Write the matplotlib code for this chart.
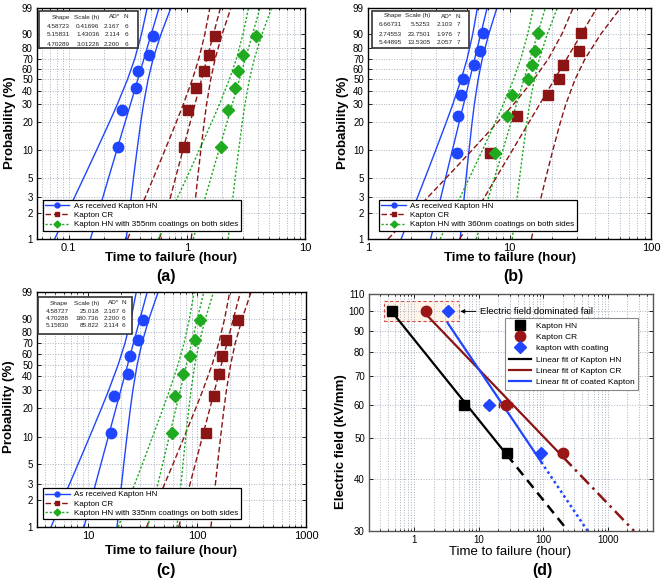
import numpy as np
import matplotlib.pyplot as plt
from matplotlib.lines import Line2D
from matplotlib.patches import Rectangle
from matplotlib.ticker import LogLocator, NullFormatter, NullLocator

plt.rcParams['font.family'] = ['Liberation Sans', 'DejaVu Sans']

# -----------------------------
# Data
# -----------------------------
RANK6 = [10.9, 26.6, 42.2, 57.8, 73.4, 89.1]          # median ranks (%), N = 6
RANK7 = [9.46, 22.97, 36.49, 50.0, 63.51, 77.03, 90.54]  # median ranks (%), N = 7
PROB_TICKS = [1, 2, 3, 5, 10, 20, 30, 40, 50, 60, 70, 80, 90, 99]

# confidence band half-width profile (x shape, ln-hours)
BAND_P = [1, 2, 3, 5, 10, 20, 30, 50, 70, 90, 99]
BAND_K = [3.2, 2.78, 2.53, 2.22, 1.81, 1.40, 1.17, 0.92, 0.82, 0.87, 1.06]

# (a) 100 kV/mm
A_HN = [0.261, 0.281, 0.370, 0.390, 0.476, 0.518]
A_CR = [0.944, 1.03, 1.197, 1.39, 1.53, 1.74]
A_COAT = [1.95, 2.25, 2.56, 2.73, 2.99, 3.83]
A_SHAPE = [4.58723, 5.15831, 4.70289]
A_SCALE = [0.41696, 1.43036, 3.01226]
A_TABLE = [['4.58723', '0.41696', '2.167', '6'],
           ['5.15831', '1.43036', '2.114', '6'],
           ['4.70289', '3.01226', '2.200', '6']]

# (b) 60 kV/mm
B_HN = [4.23, 4.30, 4.53, 4.71, 5.63, 6.18, 6.52]
B_CR = [7.26, 11.27, 18.8, 22.5, 24.0, 31.0, 31.9]
B_COAT = [7.96, 9.63, 10.5, 13.6, 14.5, 15.2, 15.8]
B_SHAPE = [6.66731, 2.74553, 5.44895]
B_SCALE = [5.5253, 23.7501, 13.5305]
B_TABLE = [['6.66731', '5.5253', '2.103', '7'],
           ['2.74553', '23.7501', '1.976', '7'],
           ['5.44895', '13.5305', '2.057', '7']]

# (c) 46 kV/mm
C_HN = [16.1, 17.2, 23.2, 24.2, 28.9, 31.8]
C_CR = [121.6, 141.9, 157.7, 170.5, 184.2, 237.0]
C_COAT = [59.0, 63.3, 74.0, 86.9, 95.2, 107.2]
C_SHAPE = [4.58727, 4.70288, 5.15830]
C_SCALE = [25.018, 180.736, 85.822]
C_TABLE = [['4.58727', '25.018', '2.167', '6'],
           ['4.70288', '180.736', '2.200', '6'],
           ['5.15830', '85.822', '2.114', '6']]

# (d) lifetime vs field
E_FIELD = [100, 60, 46]
D_HN = [0.46, 5.99, 27.2]
D_CR = [1.52, 26.6, 202.0]
D_COAT = [3.3, 14.3, 93.0]
D_HN_ERR = [0.04, 0.3, 3.0]
D_CR_ERR = [0.1, 6.0, 30.0]
D_COAT_ERR = [0.25, 1.8, 10.0]

BLUE = '#1f45ff'
RED = '#8b1414'
GREEN = '#1faa1f'

W, H = 662, 578


def box(l, t, r, b):
    return [l / W, 1 - b / H, (r - l) / W, (b - t) / H]


def weib(p):
    p = np.clip(np.asarray(p, dtype=float), 1e-6, 100 - 1e-6)
    return np.log(-np.log(1 - p / 100.0))


def weib_inv(w):
    return 100.0 * (1 - np.exp(-np.exp(np.asarray(w, dtype=float))))


fig = plt.figure(figsize=(6.62, 5.78), dpi=100)


def prob_panel(ax, times, ranks, shapes, scales, xlim, xticks, xlabels,
               table, tab_box, tab_cols, tab_rows, leg_label, leg_anchor):
    ax.set_xscale('log')
    ax.set_yscale('function', functions=(weib, weib_inv))
    p = np.array(BAND_P, dtype=float)
    k = np.array(BAND_K)
    styles = [(BLUE, '-', 'o', 7.5), (RED, (0, (4, 2)), 's', 6.5),
              (GREEN, (0, (1.6, 1.4)), 'D', 6.3)]
    for t, shp, scl, (c, ls, mk, ms) in zip(times, shapes, scales, styles):
        center = scl * (-np.log(1 - p / 100)) ** (1 / shp)
        hw = k / shp
        for f in (-1, 0, 1):
            ax.plot(center * np.exp(f * hw), p, color=c, ls=ls, lw=1.0, zorder=2)
        ax.plot(t, ranks, ls='none', marker=mk, color=c, ms=ms, zorder=3)

    ax.set_xlim(xlim)
    ax.set_ylim(1, 99)
    ax.set_yticks(PROB_TICKS, labels=[str(v) for v in PROB_TICKS])
    ax.yaxis.set_minor_locator(NullLocator())
    ax.set_xticks(xticks, labels=xlabels)
    ax.xaxis.set_minor_locator(LogLocator(base=10, subs=np.arange(2, 10)))
    ax.xaxis.set_minor_formatter(NullFormatter())
    ax.grid(True, which='major', ls=':', color='#a9b2c2', lw=0.7)
    ax.xaxis.grid(True, which='minor', ls=':', color='#a9b2c2', lw=0.7)
    ax.tick_params(which='both', direction='in', top=True, right=True, width=0.6)
    ax.tick_params(which='major', length=3)
    ax.tick_params(which='minor', length=1.5)
    ax.tick_params(axis='x', labelsize=8, pad=3)
    ax.tick_params(axis='y', labelsize=7, pad=3)
    for s in ax.spines.values():
        s.set_linewidth(1.0)

    handles = [Line2D([], [], color=BLUE, ls='-', marker='o', ms=3.5, lw=1),
               Line2D([], [], color=RED, ls=(0, (4, 2)), marker='s', ms=3.5, lw=1),
               Line2D([], [], color=GREEN, ls=(0, (1.6, 1.4)), marker='D', ms=3.5, lw=1)]
    labels = ['As received Kapton HN', 'Kapton CR', leg_label]
    leg = ax.legend(handles, labels, loc='lower left', bbox_to_anchor=leg_anchor,
                    borderaxespad=0, fontsize=5.8, handlelength=3.0,
                    labelspacing=0.2, borderpad=0.3, handletextpad=0.6,
                    fancybox=False, framealpha=1, edgecolor='black')
    leg.get_frame().set_linewidth(0.9)

    # parameter table
    l, t, r, b = tab_box
    fig.patches.append(Rectangle((l / W, 1 - b / H), (r - l) / W, (b - t) / H,
                                 transform=fig.transFigure, facecolor='white',
                                 edgecolor='#333333', lw=1.2, zorder=5))
    header = ['Shape', 'Scale (h)', 'AD*', 'N']
    for row_i, row in enumerate([header] + table):
        y = 1 - tab_rows[row_i] / H
        for col_i, txt in enumerate(row):
            ha = 'center' if col_i == 3 else 'right'
            fig.text(tab_cols[col_i] / W, y, txt, ha=ha, va='center',
                     fontsize=4.6, color='#222222', zorder=6)


ax_a = fig.add_axes(box(37, 8, 305, 239))
prob_panel(ax_a, [A_HN, A_CR, A_COAT], RANK6, A_SHAPE, A_SCALE,
           (0.054, 10), [0.1, 1, 10], ['0.1', '1', '10'], A_TABLE,
           (39, 11, 138, 48), [70, 99.5, 120, 126], [17, 26, 35, 44],
           'Kapton HN with 355nm coatings on both sides', (0.022, 0.035))

ax_b = fig.add_axes(box(368, 8, 651, 239))
prob_panel(ax_b, [B_HN, B_CR, B_COAT], RANK7, B_SHAPE, B_SCALE,
           (1, 100), [1, 10, 100], ['1', '10', '100'], B_TABLE,
           (372, 11, 469, 48), [402, 430.5, 452.5, 458], [16, 25, 34, 43],
           'Kapton HN with 360nm coatings on both sides', (0.039, 0.035))

ax_c = fig.add_axes(box(37, 292, 306, 527))
prob_panel(ax_c, [C_HN, C_CR, C_COAT], RANK6, C_SHAPE, C_SCALE,
           (3.4, 1000), [10, 100, 1000], ['10', '100', '1000'], C_TABLE,
           (38, 297, 132, 334), [68.5, 99, 119.5, 123.5], [303, 311.5, 318.5, 325.5],
           'Kapton HN with 335nm coatings on both sides', (0.022, 0.033))

# -----------------------------
# (d) electric field vs lifetime
# -----------------------------
ax_d = fig.add_axes(box(369, 294, 653, 531))
ax_d.set_xscale('log')
ax_d.set_yscale('log')

ax_d.add_patch(Rectangle((0.342, 95), 4.89 - 0.342, 106 - 95, facecolor='#fff4ea',
                         edgecolor='#d05050', ls=(0, (3, 2)), lw=0.8, zorder=1))

fits = [(D_HN, 'black', (0, (4, 2.5))), (D_CR, RED, (0, (5, 2, 1, 2))),
        (D_COAT, BLUE, (0, (1, 1.3)))]
for t, c, ext_ls in fits:
    lt = np.log10(t)
    le = np.log10(E_FIELD)
    b, a = np.polyfit(lt, le, 1)
    t0, t1 = t[0], t[-1]
    t30 = 10 ** ((np.log10(30) - a) / b)
    ax_d.plot([t0, t1], [10 ** (a + b * np.log10(t0)), 10 ** (a + b * np.log10(t1))],
              color=c, lw=1.6, zorder=2)
    ax_d.plot([t1, t30], [10 ** (a + b * np.log10(t1)), 30], color=c, lw=1.8,
              ls=ext_ls, zorder=2)

ax_d.errorbar(D_HN, E_FIELD, xerr=D_HN_ERR, fmt='s', color='black', ms=7,
              capsize=2, elinewidth=1, zorder=4)
ax_d.errorbar(D_CR, E_FIELD, xerr=D_CR_ERR, fmt='o', color='#9a1616', ms=7.5,
              capsize=2, elinewidth=1, zorder=4)
ax_d.errorbar(D_COAT, E_FIELD, xerr=D_COAT_ERR, fmt='D', color=BLUE, ms=6.5,
              capsize=2, elinewidth=1, zorder=4)

ax_d.annotate('Electric field dominated fail', xy=(5.2, 100), xytext=(10.5, 100),
              ha='left', va='center', fontsize=6.8,
              arrowprops=dict(arrowstyle='-|>', color='black', lw=0.7,
                              mutation_scale=6, shrinkA=1, shrinkB=0))

ax_d.set_xlim(0.2, 5000)
ax_d.set_ylim(30, 110)
E_TICKS = [30, 40, 50, 60, 70, 80, 90, 100, 110]
ax_d.set_yticks(E_TICKS, labels=[str(v) for v in E_TICKS])
ax_d.yaxis.set_minor_locator(NullLocator())
ax_d.set_xticks([1, 10, 100, 1000], labels=['1', '10', '100', '1000'])
ax_d.xaxis.set_minor_locator(LogLocator(base=10, subs=np.arange(2, 10)))
ax_d.xaxis.set_minor_formatter(NullFormatter())
ax_d.grid(True, which='major', ls=':', color='#a9b2c2', lw=0.7)
ax_d.xaxis.grid(True, which='minor', ls=':', color='#a9b2c2', lw=0.7)
ax_d.tick_params(which='both', direction='in', top=True, right=True, width=0.6,
                 labelsize=7, pad=3)
ax_d.tick_params(which='major', length=3)
ax_d.tick_params(which='minor', length=1.5)
for s in ax_d.spines.values():
    s.set_color('#555555')
    s.set_linewidth(1.0)

d_handles = [Line2D([], [], ls='none', marker='s', color='black', ms=7),
             Line2D([], [], ls='none', marker='o', color='#9a1616', ms=7.5),
             Line2D([], [], ls='none', marker='D', color=BLUE, ms=6.5),
             Line2D([], [], color='black', lw=1.6),
             Line2D([], [], color=RED, lw=1.6),
             Line2D([], [], color=BLUE, lw=1.6)]
d_labels = ['Kapton HN', 'Kapton CR', 'kapton with coating',
            'Linear fit of Kapton HN', 'Linear fit of Kapton CR',
            'Linear fit of coated Kapton']
leg = ax_d.legend(d_handles, d_labels, loc='upper right', bbox_to_anchor=(0.948, 0.899),
                  borderaxespad=0, fontsize=6, handlelength=2.6, labelspacing=0.42,
                  borderpad=0.45, handletextpad=0.6, fancybox=False, framealpha=1,
                  edgecolor='#888888')
leg.get_frame().set_linewidth(0.8)

# -----------------------------
# Labels
# -----------------------------
for x, y in [(171, 258), (510, 258), (171, 551)]:
    fig.text(x / W, 1 - y / H, 'Time to failure (hour)', ha='center', va='center',
             fontsize=9.5, fontweight='bold')
fig.text(510 / W, 1 - 551.5 / H, 'Time to failure (hour)', ha='center', va='center',
         fontsize=9.5)
for x, y in [(10, 123), (343, 123), (9.5, 407)]:
    fig.text(x / W, 1 - y / H, 'Probability (%)', ha='center', va='center',
             rotation=90, fontsize=9.5, fontweight='bold')
fig.text(341 / W, 1 - 442 / H, 'Electric field (kV/mm)', ha='center', va='center',
         rotation=90, fontsize=9.5, fontweight='bold')
for txt, x, y in [('(a)', 166, 277), ('(b)', 513, 277), ('(c)', 166, 570), ('(d)', 542, 570)]:
    fig.text(x / W, 1 - y / H, txt, ha='center', va='center', fontsize=11.5,
             fontweight='bold')

fig.savefig('out.png', dpi=100)
